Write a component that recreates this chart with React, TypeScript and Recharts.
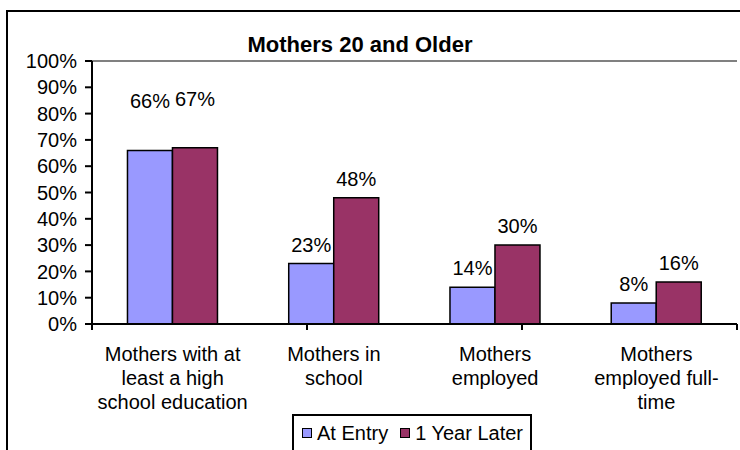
import React from 'react';
import {
  BarChart, Bar, XAxis, YAxis, Legend, LabelList, ReferenceLine,
} from 'recharts';

const categories = [
  'Mothers with at least a high school education',
  'Mothers in school',
  'Mothers employed',
  'Mothers employed full-time',
];
const categoryLines = [
  ['Mothers with at', 'least a high', 'school education'],
  ['Mothers in', 'school'],
  ['Mothers', 'employed'],
  ['Mothers', 'employed full-', 'time'],
];
const atEntry = [0.66, 0.23, 0.14, 0.08];
const oneYearLater = [0.67, 0.48, 0.3, 0.16];
const yTicks = [0, 0.1, 0.2, 0.3, 0.4, 0.5, 0.6, 0.7, 0.8, 0.9, 1];
const boundaryTicks = [0, 1, 2, 3, 4];

const series = [
  { key: 'atEntry', name: 'At Entry', color: '#9999FF' },
  { key: 'oneYearLater', name: '1 Year Later', color: '#993366' },
];

// the first group's labels were dragged up in the original chart
const labelLift = [30, 0, 0, 0];

const data = categories.map((name, i) => ({
  name,
  atEntry: atEntry[i],
  oneYearLater: oneYearLater[i],
}));

const FONT = 'Arial, "Liberation Sans", sans-serif';
const FS = 20;
const pct = (v: number) => `${Math.round(v * 100)}%`;

const CategoryTick = ({ x, y, payload }: any) => {
  const lines = categoryLines[payload.index] || [payload.value];
  return (
    <g transform={`translate(${x},${y})`}>
      {lines.map((line, i) => (
        <text
          key={i}
          x={0}
          y={i * 24}
          dy={28}
          textAnchor="middle"
          fill="#000"
          fontSize={FS}
          fontFamily={FONT}
        >
          {line}
        </text>
      ))}
    </g>
  );
};

const EmptyTick = () => <g />;

const BarValueLabel = ({ x, y, width, value, index }: any) => (
  <text
    x={x + width / 2}
    y={y - 12 - (labelLift[index] || 0)}
    textAnchor="middle"
    fill="#000"
    fontSize={FS}
    fontFamily={FONT}
  >
    {pct(Number(value))}
  </text>
);

const LegendBox = () => (
  <div
    style={{
      display: 'inline-flex',
      alignItems: 'center',
      border: '2px solid #000',
      background: '#fff',
      padding: '6px 7px 14px 8px',
      fontFamily: FONT,
      fontSize: FS,
      color: '#000',
      lineHeight: '22px',
    }}
  >
    {series.map((s, i) => (
      <span
        key={s.key}
        style={{ display: 'inline-flex', alignItems: 'center', marginLeft: i ? 12 : 0 }}
      >
        <span
          style={{
            width: 8,
            height: 8,
            background: s.color,
            border: '1.5px solid #000',
            marginRight: 5,
          }}
        />
        {s.name}
      </span>
    ))}
  </div>
);

export default function App() {
  return (
    <div
      style={{
        position: 'absolute',
        left: 0,
        top: 0,
        width: 740,
        height: 450,
        overflow: 'hidden',
        background: '#fff',
      }}
    >
      <div
        style={{
          position: 'absolute',
          left: 6,
          top: 10,
          width: 800,
          height: 500,
          border: '2px solid #000',
        }}
      />
      <div
        style={{
          position: 'absolute',
          left: 0,
          width: 720,
          top: 32,
          textAlign: 'center',
          fontFamily: FONT,
          fontWeight: 'bold',
          fontSize: 22,
          color: '#000',
        }}
      >
        Mothers 20 and Older
      </div>
      <div style={{ position: 'absolute', left: 0, top: 0 }}>
        <BarChart
          width={740}
          height={450}
          data={data}
          margin={{ top: 61, right: 3, bottom: 15, left: 12 }}
          barCategoryGap="22%"
          barGap={0}
        >
          <XAxis
            xAxisId="bounds"
            type="number"
            domain={[0, 4]}
            ticks={boundaryTicks}
            interval={0}
            tick={<EmptyTick />}
            height={1}
            axisLine={{ stroke: '#000', strokeWidth: 2 }}
            tickLine={{ stroke: '#000', strokeWidth: 2 }}
            tickSize={6}
          />
          <XAxis
            xAxisId="cat"
            dataKey="name"
            axisLine={false}
            tickLine={false}
            interval={0}
            height={110}
            tick={<CategoryTick />}
          />
          <YAxis
            yAxisId="left"
            domain={[0, 1]}
            ticks={yTicks}
            interval={0}
            tickFormatter={pct}
            width={80}
            axisLine={{ stroke: '#000', strokeWidth: 2 }}
            tickLine={{ stroke: '#000', strokeWidth: 2 }}
            tickSize={7}
            tickMargin={8}
            tick={{ fill: '#000', fontSize: FS, fontFamily: FONT }}
          />
          <ReferenceLine
            xAxisId="bounds"
            yAxisId="left"
            y={1}
            stroke="#808080"
            strokeWidth={2}
          />
          <ReferenceLine
            xAxisId="bounds"
            yAxisId="left"
            x={4}
            stroke="#808080"
            strokeWidth={2}
          />
          <Legend
            layout="horizontal"
            verticalAlign="middle"
            align="center"
            content={<LegendBox />}
            wrapperStyle={{ left: 292, top: 414, width: 'auto' }}
          />
          {series.map((s) => (
            <Bar
              key={s.key}
              xAxisId="cat"
              yAxisId="left"
              dataKey={s.key}
              name={s.name}
              fill={s.color}
              stroke="#000"
              strokeWidth={1.5}
              isAnimationActive={false}
            >
              <LabelList dataKey={s.key} content={<BarValueLabel />} />
            </Bar>
          ))}
        </BarChart>
      </div>
    </div>
  );
}
